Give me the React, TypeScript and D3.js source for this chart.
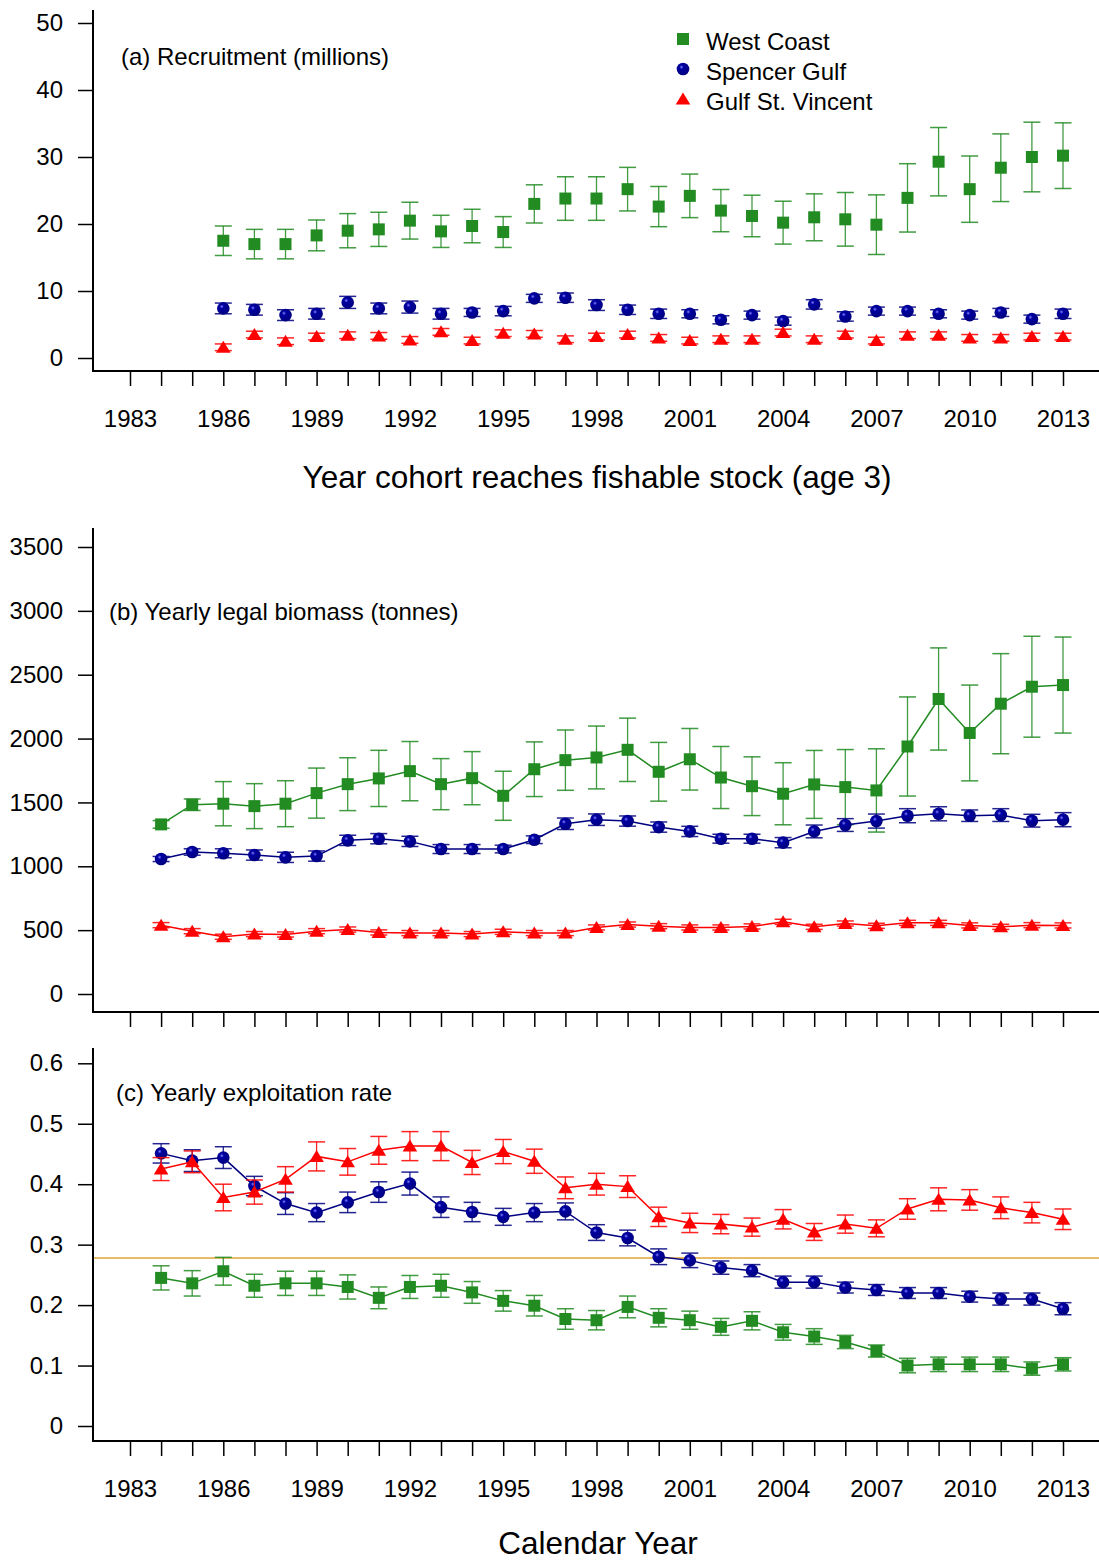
import React, { useEffect, useRef } from 'react';
import * as d3 from 'd3';

// x categories
const recYears = [1986, 1987, 1988, 1989, 1990, 1991, 1992, 1993, 1994, 1995, 1996, 1997, 1998, 1999, 2000,
  2001, 2002, 2003, 2004, 2005, 2006, 2007, 2008, 2009, 2010, 2011, 2012, 2013];
const calYears = [1984, 1985, 1986, 1987, 1988, 1989, 1990, 1991, 1992, 1993, 1994, 1995, 1996, 1997, 1998, 1999, 2000,
  2001, 2002, 2003, 2004, 2005, 2006, 2007, 2008, 2009, 2010, 2011, 2012, 2013];
const tickYears = [1983, 1984, 1985, 1986, 1987, 1988, 1989, 1990, 1991, 1992, 1993, 1994, 1995, 1996, 1997, 1998,
  1999, 2000, 2001, 2002, 2003, 2004, 2005, 2006, 2007, 2008, 2009, 2010, 2011, 2012, 2013];
const labelYears = [1983, 1986, 1989, 1992, 1995, 1998, 2001, 2004, 2007, 2010, 2013];

// (a) recruitment (millions)
const recWC = [17.5, 17.0, 17.0, 18.3, 19.0, 19.2, 20.5, 18.9, 19.7, 18.8, 23.0, 23.8, 23.8, 25.2, 22.6, 24.2, 22.0,
  21.2, 20.2, 21.0, 20.7, 19.9, 23.9, 29.3, 25.2, 28.4, 30.0, 30.2];
const recWCErr = [2.2, 2.2, 2.2, 2.3, 2.55, 2.55, 2.75, 2.4, 2.5, 2.3, 2.85, 3.25, 3.25, 3.25, 3.0, 3.25, 3.15, 3.1,
  3.2, 3.5, 4.0, 4.45, 5.1, 5.1, 4.95, 5.05, 5.2, 4.9];
const recSG = [7.4, 7.2, 6.4, 6.6, 8.3, 7.4, 7.6, 6.6, 6.8, 7.0, 8.9, 9.0, 7.9, 7.2, 6.6, 6.6, 5.7, 6.4, 5.5, 8.0,
  6.2, 7.0, 7.0, 6.6, 6.4, 6.8, 5.8, 6.6];
const recSGErr = [0.8, 0.8, 0.8, 0.8, 0.9, 0.8, 0.9, 0.8, 0.6, 0.7, 0.6, 0.7, 0.8, 0.7, 0.7, 0.6, 0.6, 0.6, 0.6, 0.7,
  0.7, 0.6, 0.6, 0.6, 0.6, 0.6, 0.6, 0.7];
const recGSV = [1.6, 3.5, 2.5, 3.2, 3.4, 3.3, 2.7, 3.9, 2.6, 3.7, 3.6, 2.8, 3.2, 3.5, 3.0, 2.6, 2.8, 2.8, 3.8, 2.8,
  3.5, 2.6, 3.4, 3.4, 3.0, 3.0, 3.2, 3.2];
const recGSVErr = [0.5, 0.5, 0.5, 0.5, 0.5, 0.5, 0.5, 0.5, 0.5, 0.5, 0.5, 0.5, 0.5, 0.5, 0.5, 0.5, 0.5, 0.5, 0.5, 0.5,
  0.5, 0.5, 0.5, 0.5, 0.5, 0.5, 0.5, 0.5];

// (b) legal biomass (tonnes)
const bioWC = [1328, 1482, 1490, 1471, 1490, 1573, 1643, 1688, 1745, 1643, 1690, 1552, 1760, 1831, 1852, 1912, 1740,
  1838, 1695, 1627, 1568, 1641, 1620, 1594, 1938, 2310, 2044, 2273, 2406, 2419];
const bioWCErr = [30, 45, 173, 176, 180, 196, 207, 220, 232, 200, 208, 192, 214, 236, 246, 248, 230, 241, 243, 230,
  243, 266, 294, 326, 388, 400, 375, 392, 395, 376];
const bioSG = [1057, 1112, 1102, 1088, 1070, 1080, 1203, 1216, 1195, 1135, 1135, 1135, 1208, 1333, 1365, 1354, 1307,
  1273, 1216, 1216, 1185, 1273, 1323, 1354, 1396, 1411, 1396, 1401, 1357, 1365];
const bioSGErr = [20, 25, 35, 40, 40, 40, 40, 40, 40, 35, 35, 30, 30, 45, 45, 40, 40, 40, 35, 35, 40, 50, 50, 55, 55,
  55, 45, 50, 50, 55];
const bioGSV = [539, 492, 448, 469, 466, 492, 505, 482, 477, 477, 469, 487, 477, 477, 521, 544, 531, 521, 521, 529,
  565, 526, 552, 534, 557, 557, 537, 526, 539, 537];
const bioGSVErr = [20, 20, 20, 20, 20, 20, 20, 20, 20, 20, 20, 20, 20, 20, 20, 20, 20, 20, 20, 20, 20, 20, 20, 20, 20,
  20, 20, 20, 20, 20];

// (c) exploitation rate
const expWC = [0.245, 0.236, 0.256, 0.232, 0.236, 0.236, 0.230, 0.212, 0.230, 0.232, 0.221, 0.207, 0.199, 0.177,
  0.175, 0.197, 0.179, 0.175, 0.164, 0.174, 0.155, 0.148, 0.139, 0.124, 0.100, 0.102, 0.102, 0.102, 0.095, 0.102];
const expWCErr = [0.02, 0.021, 0.023, 0.019, 0.02, 0.02, 0.02, 0.018, 0.019, 0.019, 0.018, 0.017, 0.017, 0.017,
  0.016, 0.018, 0.015, 0.015, 0.014, 0.015, 0.013, 0.013, 0.011, 0.010, 0.012, 0.012, 0.012, 0.012, 0.011, 0.011];
const expSG = [0.451, 0.439, 0.444, 0.397, 0.368, 0.353, 0.370, 0.387, 0.401, 0.362, 0.354, 0.346, 0.353, 0.355,
  0.320, 0.311, 0.280, 0.274, 0.262, 0.257, 0.238, 0.238, 0.229, 0.225, 0.220, 0.220, 0.214, 0.210, 0.210, 0.194];
const expSGErr = [0.016, 0.018, 0.018, 0.016, 0.018, 0.015, 0.017, 0.017, 0.019, 0.017, 0.016, 0.014, 0.015, 0.014,
  0.013, 0.013, 0.013, 0.012, 0.011, 0.010, 0.010, 0.010, 0.009, 0.009, 0.009, 0.009, 0.009, 0.010, 0.010, 0.010];
const expGSV = [0.425, 0.437, 0.378, 0.387, 0.408, 0.446, 0.437, 0.456, 0.463, 0.463, 0.436, 0.454, 0.438, 0.394,
  0.400, 0.396, 0.346, 0.336, 0.334, 0.329, 0.342, 0.321, 0.334, 0.327, 0.359, 0.375, 0.374, 0.361, 0.353, 0.342];
const expGSVErr = [0.019, 0.018, 0.022, 0.02, 0.021, 0.024, 0.022, 0.023, 0.024, 0.024, 0.02, 0.02, 0.02, 0.018,
  0.018, 0.018, 0.016, 0.016, 0.016, 0.015, 0.016, 0.014, 0.015, 0.014, 0.017, 0.019, 0.017, 0.018, 0.017, 0.017];
const expRefLine = 0.278;

const seriesNames = ['West Coast', 'Spencer Gulf', 'Gulf St. Vincent'];

const W = 1099;
const H = 1562;
const FONT = '"Liberation Sans", Arial, Helvetica, sans-serif';
const GREEN = '#228B22';
const BLUE = '#000080';
const RED = '#FF0000';
const AX = 93;

type Series = { kind: 'square' | 'circle' | 'triangle'; color: string; years: number[]; vals: number[]; err: number[] };

function drawMarker(g: any, kind: string, color: string, cx: number, cy: number) {
  if (kind === 'square') {
    g.append('rect').attr('x', cx - 6).attr('y', cy - 6).attr('width', 12).attr('height', 12).attr('fill', color);
  } else if (kind === 'circle') {
    g.append('circle').attr('cx', cx).attr('cy', cy).attr('r', 6.3).attr('fill', 'url(#ballGrad)');
  } else {
    g.append('path').attr('d', `M${cx},${cy - 6.5}L${cx + 7.3},${cy + 5.5}L${cx - 7.3},${cy + 5.5}Z`).attr('fill', color);
  }
}

export default function App() {
  const ref = useRef<SVGSVGElement>(null);

  useEffect(() => {
    const svg = d3.select(ref.current);
    svg.selectAll('*').remove();

    const defs = svg.append('defs');
    const grad = defs.append('radialGradient').attr('id', 'ballGrad').attr('cx', '0.38').attr('cy', '0.35').attr('r', '0.65');
    grad.append('stop').attr('offset', '0').attr('stop-color', '#8080ff');
    grad.append('stop').attr('offset', '0.25').attr('stop-color', '#0000a0');
    grad.append('stop').attr('offset', '1').attr('stop-color', BLUE);

    const x = d3.scaleLinear().domain([1983, 2013]).range([130, 1063]);

    const panels = [
      {
        top: 10, bottom: 371, domain: [0, 50], range: [358, 23], ticks: [0, 10, 20, 30, 40, 50],
        fmt: (d: number) => String(d), xLabels: true, lines: false,
        title: '(a) Recruitment (millions)', tx: 121, ty: 65,
        series: [
          { kind: 'square', color: GREEN, years: recYears, vals: recWC, err: recWCErr },
          { kind: 'circle', color: BLUE, years: recYears, vals: recSG, err: recSGErr },
          { kind: 'triangle', color: RED, years: recYears, vals: recGSV, err: recGSVErr },
        ] as Series[],
      },
      {
        top: 528, bottom: 1012, domain: [0, 3500], range: [994, 547], ticks: [0, 500, 1000, 1500, 2000, 2500, 3000, 3500],
        fmt: (d: number) => String(d), xLabels: false, lines: true,
        title: '(b) Yearly legal biomass (tonnes)', tx: 109, ty: 620,
        series: [
          { kind: 'square', color: GREEN, years: calYears, vals: bioWC, err: bioWCErr },
          { kind: 'circle', color: BLUE, years: calYears, vals: bioSG, err: bioSGErr },
          { kind: 'triangle', color: RED, years: calYears, vals: bioGSV, err: bioGSVErr },
        ] as Series[],
      },
      {
        top: 1048, bottom: 1441, domain: [0, 0.6], range: [1426, 1063.3], ticks: [0, 0.1, 0.2, 0.3, 0.4, 0.5, 0.6],
        fmt: (d: number) => (d === 0 ? '0' : d3.format('.1f')(d)), xLabels: true, lines: true,
        title: '(c) Yearly exploitation rate', tx: 116, ty: 1101,
        refLine: expRefLine,
        series: [
          { kind: 'square', color: GREEN, years: calYears, vals: expWC, err: expWCErr },
          { kind: 'circle', color: BLUE, years: calYears, vals: expSG, err: expSGErr },
          { kind: 'triangle', color: RED, years: calYears, vals: expGSV, err: expGSVErr },
        ] as Series[],
      },
    ];

    panels.forEach((p: any) => {
      const y = d3.scaleLinear().domain(p.domain).range(p.range);
      const g = svg.append('g');

      // Y axis
      const ya = g.append('g')
        .attr('transform', `translate(${AX},0)`)
        .call(d3.axisLeft(y).tickValues(p.ticks).tickSize(15).tickPadding(15).tickFormat(p.fmt));
      ya.select('.domain').remove();
      ya.attr('font-size', 24).attr('font-family', FONT);
      ya.selectAll('line').attr('stroke-width', 1.5);
      ya.selectAll('text').attr('fill', '#000');

      // X axis
      const xa = g.append('g')
        .attr('transform', `translate(0,${p.bottom})`)
        .call(d3.axisBottom(x).tickValues(tickYears).tickSize(15).tickPadding(24)
          .tickFormat((d: any) => (p.xLabels && labelYears.includes(d) ? String(d) : '')));
      xa.select('.domain').remove();
      xa.attr('font-size', 24).attr('font-family', FONT);
      xa.selectAll('line').attr('stroke-width', 1.5);
      xa.selectAll('text').attr('fill', '#000');

      // axis lines
      g.append('line').attr('x1', AX).attr('x2', AX).attr('y1', p.top).attr('y2', p.bottom + 1)
        .attr('stroke', '#000').attr('stroke-width', 2);
      g.append('line').attr('x1', AX).attr('x2', W).attr('y1', p.bottom).attr('y2', p.bottom)
        .attr('stroke', '#000').attr('stroke-width', 2);

      if (p.refLine !== undefined) {
        g.append('line').attr('x1', AX + 1).attr('x2', W).attr('y1', y(p.refLine)).attr('y2', y(p.refLine))
          .attr('stroke', '#E3A535').attr('stroke-width', 1.5);
      }

      g.append('text').attr('x', p.tx).attr('y', p.ty).attr('font-size', 24).attr('font-family', FONT)
        .text(p.title);

      p.series.forEach((s: Series) => {
        const sg = g.append('g');
        if (p.lines) {
          const line = d3.line<number>().x((_, i) => x(s.years[i])).y(d => y(d));
          sg.append('path').datum(s.vals).attr('d', line).attr('fill', 'none')
            .attr('stroke', s.color).attr('stroke-width', 1.5);
        }
        s.vals.forEach((v, i) => {
          const cx = x(s.years[i]);
          const y0 = y(v - s.err[i]);
          const y1 = y(v + s.err[i]);
          sg.append('line').attr('x1', cx).attr('x2', cx).attr('y1', y0).attr('y2', y1)
            .attr('stroke', s.color).attr('stroke-width', 1.3).attr('opacity', 0.85);
          [y0, y1].forEach(yy => {
            sg.append('line').attr('x1', cx - 8.5).attr('x2', cx + 8.5).attr('y1', yy).attr('y2', yy)
              .attr('stroke', s.color).attr('stroke-width', 1.5).attr('opacity', 0.85);
          });
        });
        s.vals.forEach((v, i) => drawMarker(sg, s.kind, s.color, x(s.years[i]), y(v)));
      });
    });

    // legend
    const legendKinds = ['square', 'circle', 'triangle'];
    const legendColors = [GREEN, BLUE, RED];
    const lg = svg.append('g');
    seriesNames.forEach((name, i) => {
      const cy = 39 + i * 30;
      drawMarker(lg, legendKinds[i], legendColors[i], 683, cy);
      lg.append('text').attr('x', 706).attr('y', cy + 11).attr('font-size', 24).attr('font-family', FONT).text(name);
    });

    // axis titles
    svg.append('text').attr('x', 597).attr('y', 488).attr('text-anchor', 'middle')
      .attr('font-size', 31.5).attr('font-family', FONT).text('Year cohort reaches fishable stock (age 3)');
    svg.append('text').attr('x', 598).attr('y', 1554).attr('text-anchor', 'middle')
      .attr('font-size', 31.5).attr('font-family', FONT).text('Calendar Year');
  }, []);

  return (
    <svg ref={ref} width={W} height={H}
      style={{ position: 'absolute', left: 0, top: 0, background: '#fff' }} />
  );
}
